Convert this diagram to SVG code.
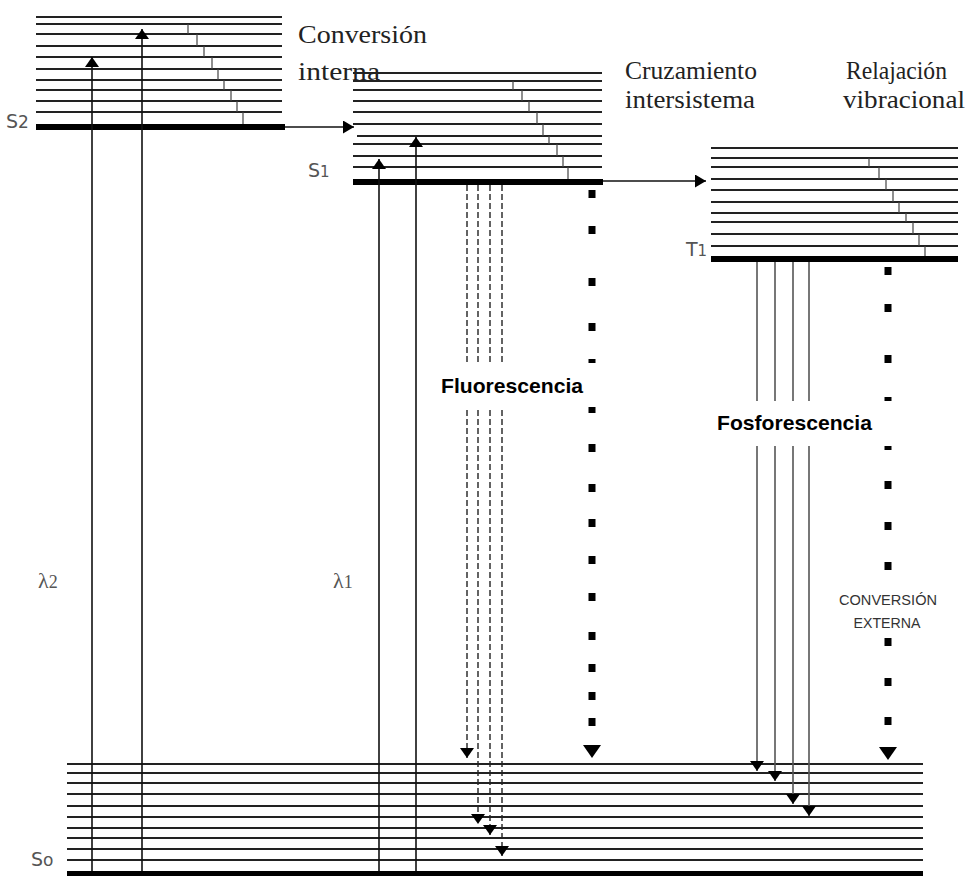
<svg xmlns="http://www.w3.org/2000/svg" width="969" height="876" viewBox="0 0 969 876">
<style>
.lv{stroke:#222;stroke-width:2}
.st{stroke:#444;stroke-width:1.2}
.thick{fill:#000}
.ar{stroke:#111;stroke-width:1.6;fill:none}
.fl{stroke:#222;stroke-width:1.4;stroke-dasharray:6 3;fill:none}
.ph{stroke:#555;stroke-width:1.6;fill:none}
.dot{fill:#000}
.head{fill:#000}
.big{font-family:"Liberation Serif",serif;font-size:26px;fill:#222}
.bold{font-family:"Liberation Sans",Arial,sans-serif;font-weight:bold;font-size:21px;fill:#000}
.lab{font-family:"DejaVu Sans","Liberation Sans",sans-serif;font-size:19px;fill:#555}
.lam{font-family:"Liberation Serif",serif;font-size:22px;fill:#555}
.ext{font-family:"Liberation Sans",Arial,sans-serif;font-size:15px;fill:#333}
</style>
<defs>
<marker id="tip" viewBox="0 0 10 14" refX="10" refY="7" markerWidth="10" markerHeight="14" markerUnits="userSpaceOnUse" orient="auto">
<path d="M0,0 L10,7 L0,14 z" fill="#000"/>
</marker>
<marker id="tipH" viewBox="0 0 11 13" refX="11" refY="6.5" markerWidth="11" markerHeight="13" markerUnits="userSpaceOnUse" orient="auto">
<path d="M0,0 L11,6.5 L0,13 z" fill="#000"/>
</marker>
</defs>
<rect width="969" height="876" fill="#fff"/>

<g id="S2">
<g class="lv">
<line x1="36" y1="17" x2="282" y2="17"/><line x1="36" y1="24" x2="282" y2="24"/>
<line x1="36" y1="34" x2="282" y2="34"/><line x1="36" y1="46" x2="282" y2="46"/>
<line x1="36" y1="57" x2="282" y2="57"/><line x1="36" y1="69" x2="282" y2="69"/>
<line x1="36" y1="80" x2="282" y2="80"/><line x1="36" y1="90" x2="282" y2="90"/>
<line x1="36" y1="101" x2="282" y2="101"/><line x1="36" y1="112" x2="282" y2="112"/>
</g>
<g class="st">
<line x1="188" y1="24" x2="188" y2="34"/><line x1="197" y1="34" x2="197" y2="46"/>
<line x1="204" y1="46" x2="204" y2="57"/><line x1="212" y1="57" x2="212" y2="69"/>
<line x1="218" y1="69" x2="218" y2="80"/><line x1="224" y1="80" x2="224" y2="90"/>
<line x1="231" y1="90" x2="231" y2="101"/><line x1="237" y1="101" x2="237" y2="112"/>
<line x1="243" y1="112" x2="243" y2="124"/>
</g>
<rect class="thick" x="36" y="124" width="249" height="6"/>
<text class="lab" x="6" y="128">S<tspan font-size="17">2</tspan></text>
</g>

<g id="S1">
<g class="lv">
<line x1="353" y1="73" x2="602" y2="73"/><line x1="353" y1="81" x2="602" y2="81"/>
<line x1="353" y1="90" x2="602" y2="90"/><line x1="353" y1="101" x2="602" y2="101"/>
<line x1="353" y1="112" x2="602" y2="112"/><line x1="353" y1="124" x2="602" y2="124"/>
<line x1="357" y1="136" x2="602" y2="136"/><line x1="353" y1="144" x2="602" y2="144"/>
<line x1="353" y1="156" x2="602" y2="156"/><line x1="353" y1="167" x2="602" y2="167"/>
</g>
<g class="st">
<line x1="513" y1="81" x2="513" y2="90"/><line x1="522" y1="90" x2="522" y2="101"/>
<line x1="529" y1="101" x2="529" y2="112"/><line x1="537" y1="112" x2="537" y2="124"/>
<line x1="543" y1="124" x2="543" y2="136"/><line x1="549" y1="136" x2="549" y2="144"/>
<line x1="557" y1="144" x2="557" y2="156"/><line x1="563" y1="156" x2="563" y2="167"/>
<line x1="568" y1="167" x2="568" y2="179"/>
</g>
<rect class="thick" x="353" y="179" width="250" height="6"/>
<text class="lab" x="308" y="177">S<tspan font-size="15">1</tspan></text>
</g>

<g id="T1">
<g class="lv">
<line x1="711" y1="148" x2="958" y2="148"/><line x1="711" y1="158" x2="958" y2="158"/>
<line x1="711" y1="167" x2="958" y2="167"/><line x1="711" y1="179" x2="958" y2="179"/>
<line x1="711" y1="190" x2="958" y2="190"/><line x1="711" y1="202" x2="958" y2="202"/>
<line x1="711" y1="213" x2="958" y2="213"/><line x1="711" y1="222" x2="958" y2="222"/>
<line x1="711" y1="234" x2="958" y2="234"/><line x1="711" y1="246" x2="958" y2="246"/>
</g>
<g class="st">
<line x1="869" y1="158" x2="869" y2="167"/><line x1="879" y1="167" x2="879" y2="179"/>
<line x1="886" y1="179" x2="886" y2="190"/><line x1="893" y1="190" x2="893" y2="202"/>
<line x1="899" y1="202" x2="899" y2="213"/><line x1="906" y1="213" x2="906" y2="222"/>
<line x1="913" y1="222" x2="913" y2="234"/><line x1="919" y1="234" x2="919" y2="246"/>
<line x1="925" y1="246" x2="925" y2="256"/>
</g>
<rect class="thick" x="711" y="256" width="247" height="6"/>
<text class="lab" x="686" y="256">T<tspan font-size="15">1</tspan></text>
</g>

<g id="S0">
<g class="lv">
<line x1="67" y1="764" x2="923" y2="764"/><line x1="67" y1="773" x2="923" y2="773"/>
<line x1="67" y1="783" x2="923" y2="783"/><line x1="67" y1="794" x2="923" y2="794"/>
<line x1="67" y1="806" x2="923" y2="806"/><line x1="67" y1="817" x2="923" y2="817"/>
<line x1="67" y1="828" x2="923" y2="828"/><line x1="67" y1="838" x2="923" y2="838"/>
<line x1="67" y1="849" x2="923" y2="849"/><line x1="67" y1="860" x2="923" y2="860"/>
</g>
<rect class="thick" x="67" y="871" width="856" height="6"/>
<text class="lab" x="31" y="866">S<tspan font-size="17">o</tspan></text>
</g>

<g id="connectors">
<line class="ar" x1="285" y1="127" x2="354" y2="127" marker-end="url(#tipH)"/>
<line class="ar" x1="603" y1="181" x2="706" y2="181" marker-end="url(#tipH)"/>
<line class="ar" x1="92" y1="871" x2="92" y2="57" marker-end="url(#tip)"/>
<line class="ar" x1="142" y1="871" x2="142" y2="29" marker-end="url(#tip)"/>
<line class="ar" x1="379" y1="871" x2="379" y2="159" marker-end="url(#tip)"/>
<line class="ar" x1="416" y1="871" x2="416" y2="137" marker-end="url(#tip)"/>
<line class="fl" x1="467" y1="185" x2="467" y2="758" marker-end="url(#tip)"/>
<line class="fl" x1="478" y1="185" x2="478" y2="824" marker-end="url(#tip)"/>
<line class="fl" x1="490" y1="185" x2="490" y2="835" marker-end="url(#tip)"/>
<line class="fl" x1="502" y1="185" x2="502" y2="856" marker-end="url(#tip)"/>
<line class="ph" x1="757" y1="262" x2="757" y2="771" marker-end="url(#tip)"/>
<line class="ph" x1="775" y1="262" x2="775" y2="781" marker-end="url(#tip)"/>
<line class="ph" x1="793" y1="262" x2="793" y2="804" marker-end="url(#tip)"/>
<line class="ph" x1="809" y1="262" x2="809" y2="816" marker-end="url(#tip)"/>
<g class="dot">
<rect x="588.5" y="190" width="7" height="8"/><rect x="588.5" y="226" width="7" height="8"/>
<rect x="588.5" y="278" width="7" height="8"/><rect x="588.5" y="323" width="7" height="8"/>
<rect x="588.5" y="359" width="7" height="8"/><rect x="588.5" y="405" width="7" height="8"/>
<rect x="588.5" y="444" width="7" height="8"/><rect x="588.5" y="484" width="7" height="8"/>
<rect x="588.5" y="519" width="7" height="8"/><rect x="588.5" y="556" width="7" height="8"/>
<rect x="588.5" y="593" width="7" height="8"/><rect x="588.5" y="632" width="7" height="8"/>
<rect x="588.5" y="664" width="7" height="8"/><rect x="588.5" y="692" width="7" height="8"/>
<rect x="588.5" y="718" width="7" height="8"/>
<rect x="884.5" y="267" width="7" height="8"/><rect x="884.5" y="304" width="7" height="8"/>
<rect x="884.5" y="355" width="7" height="8"/><rect x="884.5" y="397" width="7" height="8"/>
<rect x="884.5" y="442" width="7" height="8"/><rect x="884.5" y="481" width="7" height="8"/>
<rect x="884.5" y="522" width="7" height="8"/><rect x="884.5" y="562" width="7" height="8"/>
<rect x="884.5" y="638" width="7" height="8"/><rect x="884.5" y="678" width="7" height="8"/>
<rect x="884.5" y="717" width="7" height="8"/>
</g>
<polygon class="head" points="583,745 601,745 592,758"/>
<polygon class="head" points="879,747 897,747 888,760"/>
</g>

<g id="labels">
<rect x="428" y="363" width="172" height="44" fill="#fff"/>
<text class="bold" x="441" y="393" textLength="142" lengthAdjust="spacingAndGlyphs">Fluorescencia</text>
<rect x="712" y="401" width="184" height="45" fill="#fff"/>
<text class="bold" x="717" y="430" textLength="155" lengthAdjust="spacingAndGlyphs">Fosforescencia</text>
<text class="big" x="298" y="43" font-size="31" textLength="129" lengthAdjust="spacingAndGlyphs">Conversión</text>
<text class="big" x="298" y="80" font-size="31" textLength="82" lengthAdjust="spacingAndGlyphs">interna</text>
<text class="big" x="625" y="79" textLength="132" lengthAdjust="spacingAndGlyphs">Cruzamiento</text>
<text class="big" x="625" y="108" textLength="130" lengthAdjust="spacingAndGlyphs">intersistema</text>
<text class="big" x="846" y="79" textLength="101" lengthAdjust="spacingAndGlyphs">Relajación</text>
<text class="big" x="843" y="108" textLength="122" lengthAdjust="spacingAndGlyphs">vibracional</text>
<text class="lam" x="38" y="588">λ<tspan font-size="18">2</tspan></text>
<text class="lam" x="333" y="588">λ<tspan font-size="18">1</tspan></text>
<text class="ext" x="888" y="605" text-anchor="middle" textLength="98" lengthAdjust="spacingAndGlyphs">CONVERSIÓN</text>
<text class="ext" x="887" y="628" text-anchor="middle" textLength="67" lengthAdjust="spacingAndGlyphs">EXTERNA</text>
</g>
</svg>
